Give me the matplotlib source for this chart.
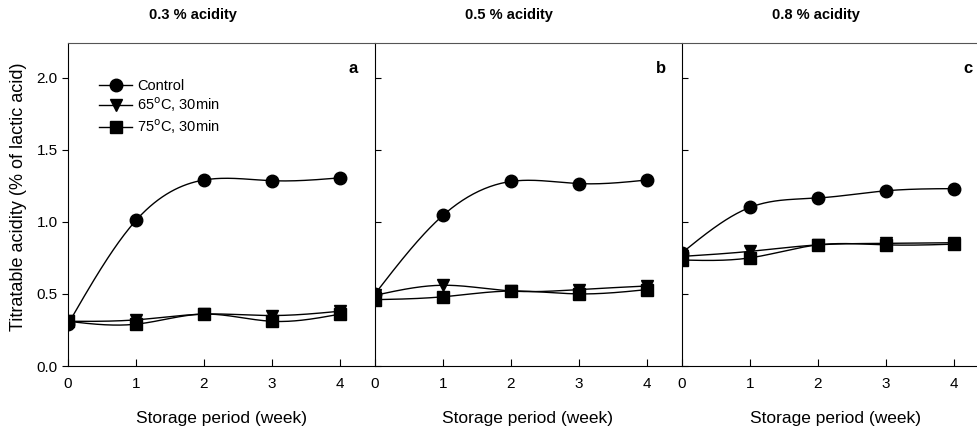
import numpy as np
import matplotlib
matplotlib.use("Agg")
from matplotlib import pyplot as plt

plt.rcParams['font.family'] = ['Liberation Sans', 'DejaVu Sans']

weeks = [0, 1, 2, 3, 4]
panel_titles = ['0.3 % acidity', '0.5 % acidity', '0.8 % acidity']
panel_tags = ['a', 'b', 'c']

# titratable acidity (% of lactic acid)
control = [[0.29, 1.01, 1.29, 1.285, 1.305],
           [0.50, 1.045, 1.28, 1.265, 1.29],
           [0.785, 1.10, 1.165, 1.215, 1.23]]
heat65 = [[0.31, 0.32, 0.36, 0.35, 0.38],
          [0.49, 0.56, 0.52, 0.53, 0.555],
          [0.76, 0.795, 0.84, 0.85, 0.855]]
heat75 = [[0.31, 0.29, 0.36, 0.31, 0.36],
          [0.46, 0.48, 0.52, 0.50, 0.53],
          [0.735, 0.75, 0.84, 0.84, 0.845]]

series_names = ['Control', '65$^{\\rm o}$C, 30min', '75$^{\\rm o}$C, 30min']
markers = ['o', 'v', 's']
msizes = [9, 8, 8]


def spline(x, y, n=200):
    # natural cubic spline, only to draw the smooth connecting line
    x = np.asarray(x, float)
    y = np.asarray(y, float)
    k = len(x)
    h = np.diff(x)
    A = np.zeros((k, k))
    b = np.zeros(k)
    A[0, 0] = A[-1, -1] = 1
    for i in range(1, k - 1):
        A[i, i - 1] = h[i - 1]
        A[i, i] = 2 * (h[i - 1] + h[i])
        A[i, i + 1] = h[i]
        b[i] = 6 * ((y[i + 1] - y[i]) / h[i] - (y[i] - y[i - 1]) / h[i - 1])
    M = np.linalg.solve(A, b)
    xs = np.linspace(x[0], x[-1], n)
    idx = np.clip(np.searchsorted(x, xs) - 1, 0, k - 2)
    x0, x1 = x[idx], x[idx + 1]
    hh = x1 - x0
    ys = (M[idx] * (x1 - xs) ** 3 / (6 * hh) + M[idx + 1] * (xs - x0) ** 3 / (6 * hh)
          + (y[idx] / hh - M[idx] * hh / 6) * (x1 - xs)
          + (y[idx + 1] / hh - M[idx + 1] * hh / 6) * (xs - x0))
    return xs, ys


fig = plt.figure(figsize=(9.78, 4.26), dpi=100)
lefts = [68, 375, 682]
title_x = [193, 509, 816]
W, H = 978.0, 426.0

for p in range(3):
    ax = fig.add_axes([lefts[p] / W, 60 / H, 306 / W, 323 / H])
    for s, data in enumerate([control[p], heat65[p], heat75[p]]):
        xs, ys = spline(weeks, data)
        ax.plot(xs, ys, color='black', lw=1.0, zorder=2)
        ax.plot(weeks, data, linestyle='none', marker=markers[s], ms=msizes[s],
                color='black', zorder=3)
    ax.set_xlim(0, 4.5)
    ax.set_ylim(0, 2.24)
    ax.set_xticks(weeks)
    ax.set_yticks([0.0, 0.5, 1.0, 1.5, 2.0])
    ax.spines['right'].set_visible(False)
    ax.spines['top'].set_color('#555555')
    ax.spines['top'].set_linewidth(0.8)
    ax.tick_params(axis='x', direction='in', length=5, labelsize=11, pad=8)
    if p == 0:
        ax.tick_params(axis='y', direction='out', length=4, labelsize=11)
        handles = [plt.Line2D([], [], color='black', lw=1.0, marker=markers[i],
                              ms=msizes[i]) for i in range(3)]
        ax.legend(handles, series_names, loc='upper left', frameon=False,
                  fontsize=10.5, handlelength=2.2, handletextpad=0.4,
                  labelspacing=0.2, bbox_to_anchor=(0.06, 0.93))
    else:
        ax.tick_params(axis='y', direction='in', length=4, labelleft=False)
    ax.set_xlabel('Storage period (week)', fontsize=12.5, labelpad=14)
    fig.text(title_x[p] / W, 1 - 15 / H, panel_titles[p], fontsize=10.5,
             fontweight='bold', ha='center', va='center')
    ax.text(4.2, 2.06, panel_tags[p], fontsize=12, fontweight='bold',
            ha='center', va='center')

fig.text(19 / W, 1 - 197 / H, 'Titratable acidity (% of lactic acid)',
         fontsize=13, rotation=90, ha='center', va='center')

fig.savefig('out.png', dpi=100)
